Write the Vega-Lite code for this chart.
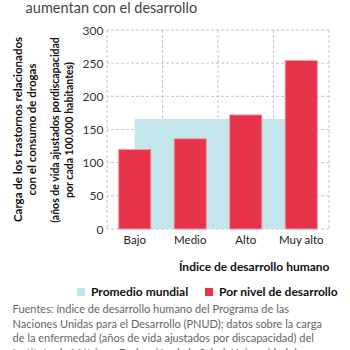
{
  "$schema": "https://vega.github.io/schema/vega-lite/v6.json",
  "background": "white",
  "padding": {"left": 12, "top": 0, "right": 0, "bottom": 0},
  "config": {
    "font": "Lato",
    "view": {"stroke": null},
    "axis": {"grid": false, "domain": false, "ticks": false}
  },
  "datasets": {
    "carga": [
      {"nivel": "Bajo", "carga": 120, "promedio": 166},
      {"nivel": "Medio", "carga": 136, "promedio": 166},
      {"nivel": "Alto", "carga": 172, "promedio": 166},
      {"nivel": "Muy alto", "carga": 254, "promedio": 166}
    ],
    "rejilla_y": [
      {"valor": 0}, {"valor": 50}, {"valor": 100}, {"valor": 150}, {"valor": 200}, {"valor": 250}, {"valor": 300}
    ],
    "rejilla_x": [
      {"nivel": "Bajo"}, {"nivel": "Medio"}, {"nivel": "Alto"}, {"nivel": "Muy alto"}
    ],
    "rejilla_fin": [
      {"nivel": "Muy alto"}
    ]
  },
  "title": {
    "text": [
      "Fuentes: índice de desarrollo humano del Programa de las",
      "Naciones Unidas para el Desarrollo (PNUD); datos sobre la carga",
      "de la enfermedad (años de vida ajustados por discapacidad) del",
      "Instituto de Métrica y Evaluación de la Salud, Universidad de"
    ],
    "orient": "bottom",
    "anchor": "start",
    "frame": "bounds",
    "fontSize": 11,
    "fontWeight": "normal",
    "color": "#666666",
    "lineHeight": 14.5,
    "offset": 6
  },
  "vconcat": [
    {
      "title": {
        "text": "aumentan con el desarrollo",
        "anchor": "start",
        "frame": "bounds",
        "fontSize": 14.5,
        "fontWeight": "normal",
        "color": "#444444",
        "dx": 13,
        "dy": 1,
        "offset": 9
      },
      "vconcat": [
        {
          "width": 222,
          "height": 199,
          "title": {
            "text": ["Carga de los trastornos relacionados", "con el consumo de drogas"],
            "orient": "left",
            "anchor": "middle",
            "fontSize": 11.5,
            "fontWeight": "bold",
            "color": "#111111",
            "lineHeight": 14,
            "offset": 12
          },
          "layer": [
            {
              "data": {"name": "rejilla_y"},
              "mark": {"type": "rule", "color": "#c4c4c4", "strokeWidth": 1, "strokeDash": [3, 2]},
              "encoding": {
                "y": {
                  "field": "valor",
                  "type": "quantitative",
                  "scale": {"domain": [0, 300]},
                  "axis": {
                    "title": ["(años de vida ajustados pordiscapacidad", "por cada 100.000 habitantes)"],
                    "titleFontSize": 10.5,
                    "titleFontWeight": "bold",
                    "titleColor": "#111111",
                    "titleLineHeight": 14,
                    "titlePadding": 8,
                    "values": [0, 50, 100, 150, 200, 250, 300],
                    "labelFontSize": 12,
                    "labelColor": "#333333",
                    "labelPadding": 4
                  }
                }
              }
            },
            {
              "data": {"name": "rejilla_x"},
              "mark": {"type": "rule", "color": "#c4c4c4", "strokeWidth": 1, "strokeDash": [3, 2]},
              "encoding": {
                "x": {
                  "field": "nivel",
                  "type": "nominal",
                  "sort": ["Bajo", "Medio", "Alto", "Muy alto"],
                  "bandPosition": -0.362,
                  "scale": {"domain": ["Bajo", "Medio", "Alto", "Muy alto"], "paddingInner": 0.42, "paddingOuter": 0.21},
                  "axis": {
                    "title": "Índice de desarrollo humano",
                    "titleAnchor": "end",
                    "titleFontSize": 12,
                    "titleFontWeight": "bold",
                    "titleColor": "#111111",
                    "titlePadding": 16,
                    "labelAngle": 0,
                    "labelFontSize": 11.5,
                    "labelColor": "#222222",
                    "labelPadding": 5
                  }
                }
              }
            },
            {
              "data": {"name": "rejilla_fin"},
              "mark": {"type": "rule", "color": "#c4c4c4", "strokeWidth": 1, "strokeDash": [3, 2]},
              "encoding": {
                "x": {
                  "field": "nivel",
                  "type": "nominal",
                  "sort": ["Bajo", "Medio", "Alto", "Muy alto"],
                  "bandPosition": 1.362,
                  "scale": {"domain": ["Bajo", "Medio", "Alto", "Muy alto"], "paddingInner": 0.42, "paddingOuter": 0.21},
                  "axis": {
                    "title": "Índice de desarrollo humano",
                    "titleAnchor": "end",
                    "titleFontSize": 12,
                    "titleFontWeight": "bold",
                    "titleColor": "#111111",
                    "titlePadding": 16,
                    "labelAngle": 0,
                    "labelFontSize": 11.5,
                    "labelColor": "#222222",
                    "labelPadding": 5
                  }
                }
              }
            },
            {
              "data": {"name": "carga"},
              "mark": {"type": "area", "opacity": 1},
              "encoding": {
                "x": {
                  "field": "nivel",
                  "type": "nominal",
                  "sort": ["Bajo", "Medio", "Alto", "Muy alto"],
                  "scale": {"domain": ["Bajo", "Medio", "Alto", "Muy alto"], "paddingInner": 0.42, "paddingOuter": 0.21},
                  "axis": {
                    "title": "Índice de desarrollo humano",
                    "titleAnchor": "end",
                    "titleFontSize": 12,
                    "titleFontWeight": "bold",
                    "titleColor": "#111111",
                    "titlePadding": 16,
                    "labelAngle": 0,
                    "labelFontSize": 11.5,
                    "labelColor": "#222222",
                    "labelPadding": 5
                  }
                },
                "y": {
                  "field": "promedio",
                  "type": "quantitative",
                  "scale": {"domain": [0, 300]},
                  "axis": {
                    "title": ["(años de vida ajustados pordiscapacidad", "por cada 100.000 habitantes)"],
                    "titleFontSize": 10.5,
                    "titleFontWeight": "bold",
                    "titleColor": "#111111",
                    "titleLineHeight": 14,
                    "titlePadding": 8,
                    "values": [0, 50, 100, 150, 200, 250, 300],
                    "labelFontSize": 12,
                    "labelColor": "#333333",
                    "labelPadding": 4
                  }
                },
                "color": {
                  "datum": "Promedio mundial",
                  "type": "nominal",
                  "scale": {
                    "domain": ["Promedio mundial", "Por nivel de desarrollo"],
                    "range": ["#C3E6EC", "#E6334A"]
                  },
                  "legend": {
                    "title": null,
                    "orient": "none",
                    "direction": "horizontal",
                    "legendX": -32,
                    "legendY": 256,
                    "symbolType": "square",
                    "symbolSize": 64,
                    "symbolStrokeWidth": 0,
                    "labelFontSize": 12,
                    "labelFontWeight": "bold",
                    "labelColor": "#111111",
                    "columnPadding": 14,
                    "labelLimit": 300
                  }
                }
              }
            },
            {
              "data": {"name": "carga"},
              "mark": {"type": "bar", "stroke": "#f09aa5", "strokeWidth": 1},
              "encoding": {
                "x": {
                  "field": "nivel",
                  "type": "nominal",
                  "sort": ["Bajo", "Medio", "Alto", "Muy alto"],
                  "scale": {"domain": ["Bajo", "Medio", "Alto", "Muy alto"], "paddingInner": 0.42, "paddingOuter": 0.21},
                  "axis": {
                    "title": "Índice de desarrollo humano",
                    "titleAnchor": "end",
                    "titleFontSize": 12,
                    "titleFontWeight": "bold",
                    "titleColor": "#111111",
                    "titlePadding": 16,
                    "labelAngle": 0,
                    "labelFontSize": 11.5,
                    "labelColor": "#222222",
                    "labelPadding": 5
                  }
                },
                "y": {
                  "field": "carga",
                  "type": "quantitative",
                  "scale": {"domain": [0, 300]},
                  "axis": {
                    "title": ["(años de vida ajustados pordiscapacidad", "por cada 100.000 habitantes)"],
                    "titleFontSize": 10.5,
                    "titleFontWeight": "bold",
                    "titleColor": "#111111",
                    "titleLineHeight": 14,
                    "titlePadding": 8,
                    "values": [0, 50, 100, 150, 200, 250, 300],
                    "labelFontSize": 12,
                    "labelColor": "#333333",
                    "labelPadding": 4
                  }
                },
                "color": {"datum": "Por nivel de desarrollo", "type": "nominal"}
              }
            }
          ]
        }
      ]
    }
  ]
}
